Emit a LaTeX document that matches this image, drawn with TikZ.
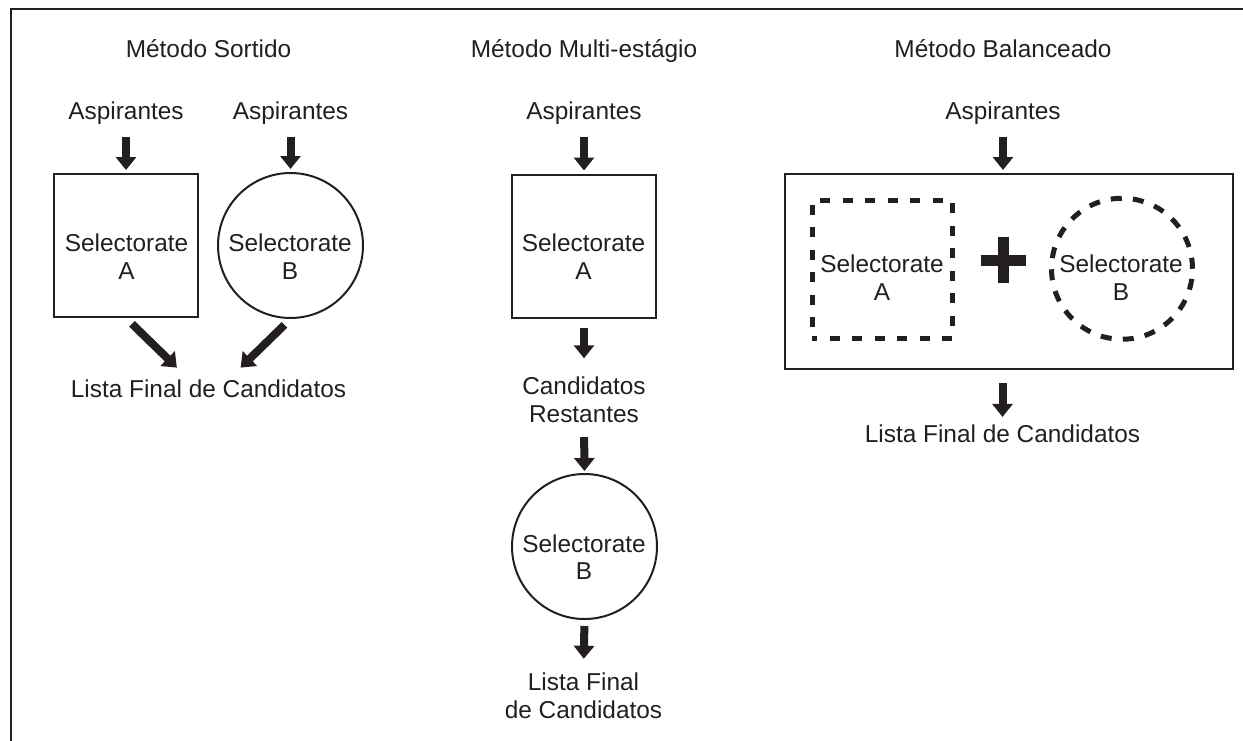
\documentclass[tikz,border=0pt]{standalone}
\usepackage{fontspec}
\setmainfont{Liberation Sans}
\usetikzlibrary{arrows.meta}
\definecolor{ink}{HTML}{231F20}
\tikzset{
  lbl/.style = {inner sep=0pt, text=ink, font=\fontsize{12.2}{13.85}\selectfont, align=center},
  sbox/.style = {draw=ink, line width=1pt, minimum width=71.75pt, minimum height=71.5pt, inner sep=0pt},
  scirc/.style = {draw=ink, line width=1pt, circle, minimum size=72.5pt, inner sep=0pt},
  dbox/.style = {draw=ink, line width=2.5pt, dash pattern=on 5pt off 6.25pt, dash phase=2.5pt, minimum width=70pt, minimum height=69pt, inner sep=0pt},
  dcirc/.style = {draw=ink, line width=2.5pt, dash pattern=on 5.5pt off 5.6pt, circle, minimum size=70.5pt, inner sep=0pt},
  bigbox/.style = {draw=ink, line width=1pt, minimum width=224pt, minimum height=97.5pt, inner sep=0pt},
  fat/.style = {draw=ink, line width=4pt, -{Triangle[width=10pt, length=6.5pt]}}
}
\begin{document}
\begin{tikzpicture}[x=0.5pt, y=-0.5pt]
  \useasboundingbox (0,0) rectangle (1243,740);
  \draw [ink, line width=1.4pt] (11,760) -- (11,9) -- (1260,9);

  % Metodo Sortido
  \node [lbl, anchor=base] (t1) at (208.5,57) {Método Sortido};
  \node [lbl, anchor=base] (asp1) at (126,119) {Aspirantes};
  \node [lbl, anchor=base] (asp2) at (290.5,119) {Aspirantes};
  \node [sbox] (sa1) at (126,245.5) {};
  \node [lbl] (sa1t) at (126.5,257) {Selectorate\\A};
  \node [scirc] (sb1) at (290.5,245.5) {};
  \node [lbl] (sb1t) at (290,257) {Selectorate\\B};
  \node [lbl, anchor=base] (list1) at (208.5,397) {Lista Final de Candidatos};
  \draw [fat, shorten <=6.5pt, shorten >=1.5pt] (asp1.south) -- (sa1.north);
  \draw [fat, shorten <=6.5pt, shorten >=1.5pt] (asp2.south) -- (sb1.north);
  \draw [fat, shorten <=4.2pt, shorten >=8.1pt] (sa1.south) -- ([xshift=-10pt]list1.north);
  \draw [fat, shorten <=4.2pt, shorten >=8.1pt] (sb1.south) -- ([xshift=10.25pt]list1.north);

  % Metodo Multi-estagio
  \node [lbl, anchor=base] (t2) at (584,57) {Método Multi-estágio};
  \node [lbl, anchor=base] (asp3) at (584,119) {Aspirantes};
  \node [sbox] (sa2) at (584,246) {};
  \node [lbl] (sa2t) at (583.5,257) {Selectorate\\A};
  \node [lbl] (cand) at (584,400) {Candidatos\\Restantes};
  \node [scirc] (sb2) at (584.5,546.5) {};
  \node [lbl] (sb2t) at (584,557) {Selectorate\\B};
  \node [lbl] (list2) at (583.5,696) {Lista Final\\de Candidatos};
  \draw [fat, shorten <=6.5pt, shorten >=1.5pt] (asp3.south) -- (sa2.north);
  \draw [fat, shorten <=4.5pt, shorten >=9.25pt] (sa2.south) -- (cand.north);
  \draw [fat, shorten <=7pt, shorten >=1pt] (cand.south) -- (sb2.north);
  \draw [fat, shorten <=3pt, shorten >=7pt] (sb2.south) -- (list2.north);

  % Metodo Balanceado
  \node [lbl, anchor=base] (t3) at (1003,57) {Método Balanceado};
  \node [lbl, anchor=base] (asp4) at (1003,119) {Aspirantes};
  \node [bigbox] (bal) at (1009,271.5) {};
  \node [dbox] (sa3) at (882,269) {};
  \node [lbl] (sa3t) at (882,278) {Selectorate\\A};
  \node [dcirc] (sb3) at (1122,268.75) {};
  \node [lbl] (sb3t) at (1121,278) {Selectorate\\B};
  \draw [ink, line width=5.5pt] (980.5,260.5) -- (1025.5,260.5);
  \draw [ink, line width=5.5pt] (1003,237) -- (1003,283);
  \node [lbl, anchor=base] (list3) at (1002.5,442) {Lista Final de Candidatos};
  \draw [fat, shorten <=6.5pt, shorten >=1.5pt] (asp4.south) -- (asp4.south |- bal.north);
  \draw [fat, shorten <=6.5pt, shorten >=3.5pt] (list3.north |- bal.south) -- (list3.north);
\end{tikzpicture}
\end{document}
